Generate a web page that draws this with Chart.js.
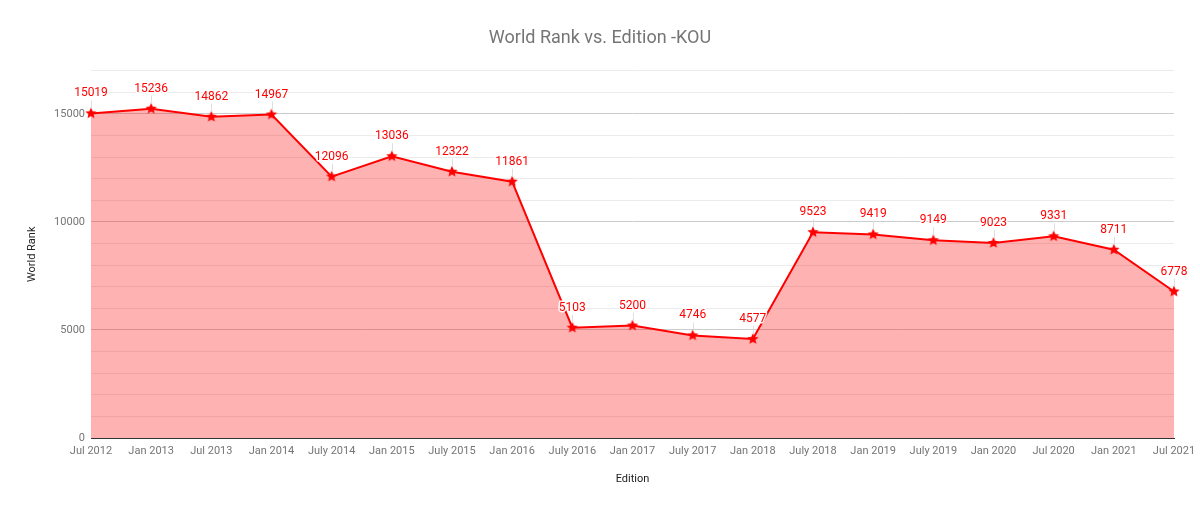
<!DOCTYPE html>
<html>
<head>
<meta charset="utf-8">
<script src="https://cdn.jsdelivr.net/npm/chart.js@4"></script>
<style>
  html, body { margin: 0; padding: 0; background: #fff; }
  #wrap { width: 1200px; height: 511px; }
</style>
</head>
<body>
<div id="wrap"><canvas id="c"></canvas></div>
<script>
const editions = ["Jul 2012","Jan 2013","Jul 2013","Jan 2014","July 2014","Jan 2015","July 2015","Jan 2016","July 2016","Jan 2017","July 2017","Jan 2018","July 2018","Jan 2019","July 2019","Jan 2020","Jul 2020","Jan 2021","Jul 2021"];
const worldRank = [15019,15236,14862,14967,12096,13036,12322,11861,5103,5200,4746,4577,9523,9419,9149,9023,9331,8711,6778];
const yMax = 17000;
const yStep = 1000;
const yLabelStep = 5000;

function makeStar(r, color) {
  const c = document.createElement('canvas');
  const s = Math.ceil(r * 2 + 2);
  c.width = s; c.height = s;
  const g = c.getContext('2d');
  const cx = s / 2, cy = s / 2, ri = r * 0.45;
  g.beginPath();
  for (let i = 0; i < 10; i++) {
    const rad = i % 2 === 0 ? r : ri;
    const a = -Math.PI / 2 + i * Math.PI / 5;
    const x = cx + rad * Math.cos(a), y = cy + rad * Math.sin(a);
    if (i === 0) g.moveTo(x, y); else g.lineTo(x, y);
  }
  g.closePath();
  g.fillStyle = color;
  g.fill();
  return c;
}
const star = makeStar(6, '#ff0000');

const labelPlugin = {
  id: 'valueLabels',
  afterDatasetsDraw(chart) {
    const ctx = chart.ctx;
    const meta = chart.getDatasetMeta(0);
    ctx.save();
    ctx.font = '12px Roboto';
    ctx.textAlign = 'center';
    ctx.textBaseline = 'middle';
    meta.data.forEach((pt, i) => {
      const x = pt.x, y = pt.y;
      const ly = y - 20;
      ctx.strokeStyle = 'rgba(220,220,220,0.9)';
      ctx.lineWidth = 1;
      ctx.beginPath();
      ctx.moveTo(Math.round(x) + 0.5, ly + 7);
      ctx.lineTo(Math.round(x) + 0.5, y - 5);
      ctx.stroke();
      const t = String(chart.data.datasets[0].data[i]);
      ctx.lineWidth = 3;
      ctx.strokeStyle = 'rgba(255,255,255,0.9)';
      ctx.lineJoin = 'round';
      ctx.strokeText(t, x, ly);
      ctx.fillStyle = '#ff0000';
      ctx.fillText(t, x, ly);
    });
    ctx.restore();
  }
};

new Chart(document.getElementById('c'), {
  type: 'line',
  data: {
    labels: editions,
    datasets: [{
      data: worldRank,
      borderColor: '#ff0000',
      borderWidth: 2,
      backgroundColor: 'rgba(255,0,0,0.3)',
      fill: 'origin',
      tension: 0,
      pointStyle: star,
      pointRadius: 6,
      pointHoverRadius: 6
    }]
  },
  options: {
    responsive: true,
    maintainAspectRatio: false,
    animation: false,
    events: [],
    layout: { padding: { left: 0, right: 0, top: 0, bottom: 0 } },
    plugins: {
      legend: { display: false },
      tooltip: { enabled: false },
      title: {
        display: true,
        text: 'World Rank vs. Edition -KOU',
        color: '#757575',
        font: { family: 'Roboto', size: 18, weight: 'normal' },
        padding: { top: 28, bottom: 21 }
      }
    },
    scales: {
      x: {
        type: 'category',
        offset: false,
        grid: { display: false, drawTicks: false },
        border: { display: true, color: '#333333', width: 1 },
        ticks: {
          color: '#757575',
          font: { family: 'Roboto', size: 11 },
          autoSkip: false,
          maxRotation: 0,
          padding: 7
        },
        title: {
          display: true,
          text: 'Edition',
          color: '#222222',
          font: { family: 'Roboto', size: 11 },
          padding: { top: 0, bottom: 25 }
        },
        afterFit(scale) { scale.height = 73; scale.paddingRight = 26; }
      },
      y: {
        min: 0,
        max: yMax,
        grid: {
          drawTicks: false,
          color(ctx) {
            const v = ctx.tick.value;
            if (v === 0) return 'rgba(0,0,0,0)';
            return v % yLabelStep === 0 ? '#cccccc' : '#ebebeb';
          },
          lineWidth: 1
        },
        border: { display: false },
        ticks: {
          stepSize: yStep,
          color: '#757575',
          font: { family: 'Roboto', size: 11 },
          padding: 6,
          autoSkip: false,
          callback(v) { return v % yLabelStep === 0 ? String(v) : ''; }
        },
        title: {
          display: true,
          text: 'World Rank',
          color: '#222222',
          font: { family: 'Roboto', size: 11 },
          padding: { top: 26, bottom: 0 }
        },
        afterFit(scale) { scale.width = 91; }
      }
    }
  },
  plugins: [labelPlugin]
});
</script>
</body>
</html>
